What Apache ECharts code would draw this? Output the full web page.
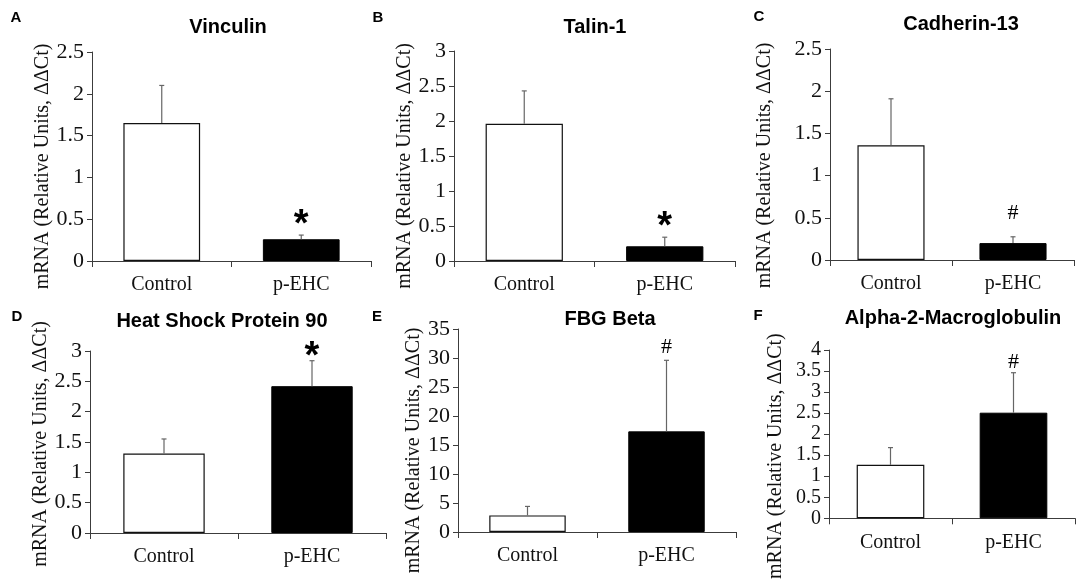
<!DOCTYPE html>
<html>
<head>
<meta charset="utf-8">
<script src="https://cdn.jsdelivr.net/npm/echarts@6/dist/echarts.min.js"></script>
<style>
html,body{margin:0;padding:0;background:#fff;}
#chart{width:1084px;height:581px;}
</style>
</head>
<body>
<div id="chart"></div>
<script>
// ---- data ----
const categories = ['Control', 'p-EHC'];
const panelLetters = ['A', 'B', 'C', 'D', 'E', 'F'];
const panelTitles = ['Vinculin', 'Talin-1', 'Cadherin-13', 'Heat Shock Protein 90', 'FBG Beta', 'Alpha-2-Macroglobulin'];
const controlMean = [1.65, 1.96, 1.36, 1.31, 2.86, 1.27];
const controlErr = [0.45, 0.47, 0.55, 0.24, 1.55, 0.41];
const pehcMean = [0.26, 0.21, 0.20, 2.42, 17.35, 2.51];
const pehcErr = [0.05, 0.13, 0.075, 0.42, 12.25, 0.95];
const significance = ['*', '*', '#', '*', '#', '#'];
const yMax = [2.5, 3, 2.5, 3, 35, 4];
const yInterval = [0.5, 0.5, 0.5, 0.5, 5, 0.5];
const yAxisName = 'mRNA (Relative Units, \u0394\u0394Ct)';

// ---- layout (positions / styles only) ----
const grids = [
  {left: 92, top: 52, width: 279, height: 209},
  {left: 454, top: 51, width: 281, height: 210},
  {left: 830, top: 49, width: 244, height: 211},
  {left: 90, top: 351, width: 296, height: 182},
  {left: 458, top: 329, width: 278, height: 203},
  {left: 829, top: 350, width: 246, height: 184}
];
const titlePos = [[228, 27], [595, 27], [961, 24], [222, 321], [610, 319], [953, 318]];
const letterPos = [[16, 18], [378, 18], [759, 17], [17, 317], [377, 317], [758, 316]];
const nameGaps = [37, 39, 55, 35, 33, 43];
const nameShift = [10, 10, 11, 2, 20, 22];
const markGap = [17, 17, 23.5, 11, 13, 11];
const tickFont = [22, 22, 22, 22, 22, 20];

const serif = '"Liberation Serif", "Times New Roman", serif';
const sans = '"Liberation Sans", Arial, sans-serif';
const axisColor = '#3c3c3c';
const textColor = '#111';

const chart = echarts.init(document.getElementById('chart'), null, {renderer: 'canvas'});

const option = {
  backgroundColor: '#fff',
  animation: false,
  grid: grids.map(g => Object.assign({containLabel: false}, g)),
  xAxis: grids.map((g, i) => ({
    type: 'category',
    gridIndex: i,
    data: categories,
    axisLine: {lineStyle: {color: axisColor, width: 1}},
    axisTick: {show: true, length: 6, lineStyle: {color: axisColor}},
    axisLabel: {fontFamily: serif, fontSize: 20, color: textColor, margin: 14},
    splitLine: {show: false}
  })),
  yAxis: grids.map((g, i) => ({
    type: 'value',
    gridIndex: i,
    min: 0,
    max: yMax[i],
    interval: yInterval[i],
    name: yAxisName,
    nameLocation: 'middle',
    nameGap: nameGaps[i],
    nameTextStyle: {fontFamily: serif, fontSize: 20, color: textColor, padding: [0, nameShift[i] * 2, 0, 0]},
    axisLine: {show: true, lineStyle: {color: axisColor, width: 1}},
    axisTick: {show: true, length: 5, lineStyle: {color: axisColor}},
    axisLabel: {fontFamily: serif, fontSize: tickFont[i], lineHeight: 16, color: textColor, margin: 8,
      showMinLabel: true, showMaxLabel: true, hideOverlap: false},
    splitLine: {show: false}
  })),
  graphic: [],
  series: []
};

panelTitles.forEach((t, i) => {
  option.graphic.push({
    type: 'text', x: titlePos[i][0], y: titlePos[i][1],
    style: {text: t, align: 'center', verticalAlign: 'middle', fontFamily: sans, fontWeight: 'bold', fontSize: 20, fill: '#000'}
  });
  option.graphic.push({
    type: 'text', x: letterPos[i][0], y: letterPos[i][1],
    style: {text: panelLetters[i], align: 'center', verticalAlign: 'middle', fontFamily: sans, fontWeight: 'bold', fontSize: 15, fill: '#000'}
  });
});

for (let i = 0; i < 6; i++) {
  option.series.push({
    type: 'bar',
    xAxisIndex: i,
    yAxisIndex: i,
    barWidth: '55%',
    data: [
      {value: controlMean[i], itemStyle: {color: '#fff', borderColor: '#111', borderWidth: 1.2}},
      {value: pehcMean[i], itemStyle: {color: '#000', borderColor: '#000', borderWidth: 1}}
    ]
  });
  const means = [controlMean[i], pehcMean[i]];
  const errs = [controlErr[i], pehcErr[i]];
  option.series.push({
    type: 'custom',
    xAxisIndex: i,
    yAxisIndex: i,
    z: 5,
    data: [[0, means[0], errs[0]], [1, means[1], errs[1]]],
    renderItem: function (params, api) {
      const cat = api.value(0);
      const m = api.value(1);
      const e = api.value(2);
      const base = api.coord([cat, m]);
      const top = api.coord([cat, m + e]);
      const children = [
        {type: 'line', shape: {x1: base[0], y1: base[1], x2: top[0], y2: top[1]}, style: {stroke: '#666', lineWidth: 1.2}},
        {type: 'line', shape: {x1: top[0] - 2.5, y1: top[1], x2: top[0] + 2.5, y2: top[1]}, style: {stroke: '#666', lineWidth: 1.2}}
      ];
      if (cat === 1) {
        const sym = significance[i];
        const isStar = sym === '*';
        const fs = isStar ? 38 : 22;
        const cy = top[1] - markGap[i];
        children.push({
          type: 'text',
          style: {
            text: sym, x: top[0], y: isStar ? cy + fs * 0.2 : cy,
            align: 'center', verticalAlign: 'middle',
            fontFamily: isStar ? sans : serif, fontWeight: isStar ? 'bold' : 'normal',
            fontSize: fs, fill: '#000'
          }
        });
      }
      return {type: 'group', children: children};
    }
  });
}

chart.setOption(option);
</script>
</body>
</html>
